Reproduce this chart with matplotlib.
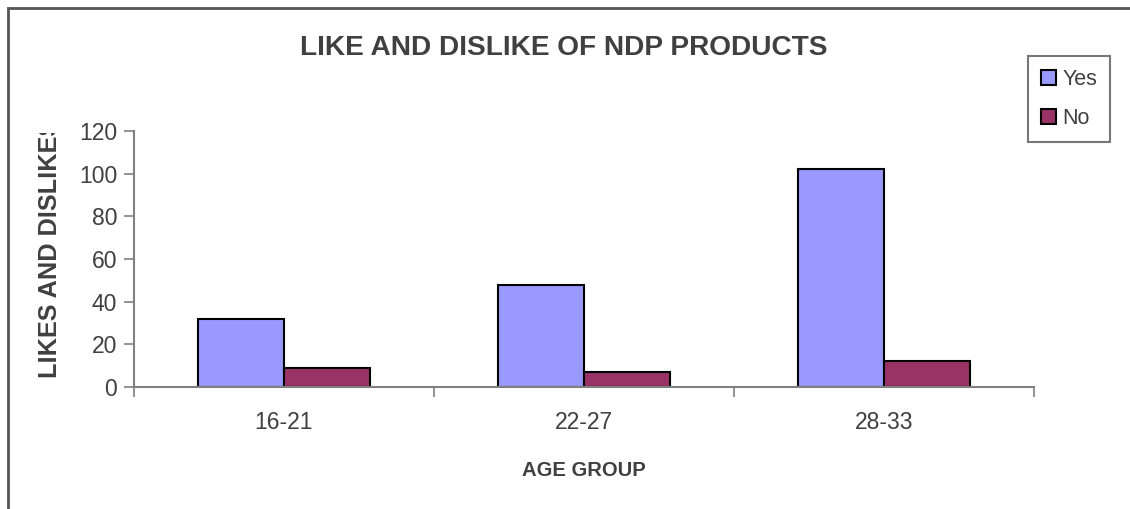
import numpy as np
import matplotlib.pyplot as plt
from matplotlib.patches import Rectangle
from matplotlib.transforms import Bbox, TransformedBbox

plt.rcParams['font.family'] = ['Liberation Sans', 'DejaVu Sans']

age_groups = ['16-21', '22-27', '28-33']
yes_counts = [32, 48, 102]
no_counts = [9, 7, 12]
series_names = ['Yes', 'No']

text_col = '#404040'
axis_col = '#808080'

fig = plt.figure(figsize=(11.3, 5.09), dpi=100)
ax = fig.add_axes([134/1130, 1 - 387/509, 900/1130, 256/509])

x = np.arange(len(age_groups))
w = 0.287
ax.bar(x - w/2, yes_counts, w, color='#9999FF', edgecolor='black', linewidth=1.5, label=series_names[0])
ax.bar(x + w/2, no_counts, w, color='#993366', edgecolor='black', linewidth=1.5, label=series_names[1])

ax.set_xlim(-0.5, 2.5)
ax.set_ylim(0, 120)
ax.set_yticks(np.arange(0, 121, 20))
ax.set_xticks(x)
ax.set_xticklabels(age_groups)
ax.set_xticks([-0.5, 0.5, 1.5, 2.5], minor=True)
ax.tick_params(axis='x', which='major', length=0, pad=17, labelsize=16.5, labelcolor=text_col)
ax.tick_params(axis='x', which='minor', length=7, width=1.2, color=axis_col, direction='out')
ax.tick_params(axis='y', length=7, width=1.2, color=axis_col, labelsize=16.5, labelcolor=text_col, pad=5)

for s in ['top', 'right']:
    ax.spines[s].set_visible(False)
for s in ['left', 'bottom']:
    ax.spines[s].set_color(axis_col)
    ax.spines[s].set_linewidth(1.5)

ax.set_xlabel('AGE GROUP', fontsize=14.6, fontweight='bold', color=text_col, labelpad=20)

fig.text(564/1130, 1 - 48/509, 'LIKE AND DISLIKE OF NDP PRODUCTS', ha='center', va='center',
         fontsize=20.2, fontweight='bold', color=text_col)

# y label, cut off at the top as in the original
ylab = fig.text(50/1130, 1 - 378/509, 'LIKES AND DISLIKES', rotation=90, ha='center', va='bottom',
                fontsize=18.2, fontweight='bold', color=text_col)
ylab.set_clip_box(TransformedBbox(Bbox([[0, 0], [1, 1 - 133/509]]), fig.transFigure))
ylab.set_clip_on(True)

leg = fig.legend(loc='upper left', bbox_to_anchor=(1028/1130, 1 - 56/509), fontsize=15.5,
                 frameon=True, fancybox=False, edgecolor='#555555', handlelength=0.7,
                 handleheight=0.7, handletextpad=0.3, labelspacing=0.85, borderpad=0.6,
                 borderaxespad=0)
leg.get_frame().set_linewidth(1.5)
for t in leg.get_texts():
    t.set_color(text_col)

# outer chart frame
fig.add_artist(Rectangle((8/1130, -0.2), 1.5, 1.2 - 8/509, transform=fig.transFigure,
                         fill=False, edgecolor='#555555', linewidth=2))

fig.savefig('out.png', dpi=100)
